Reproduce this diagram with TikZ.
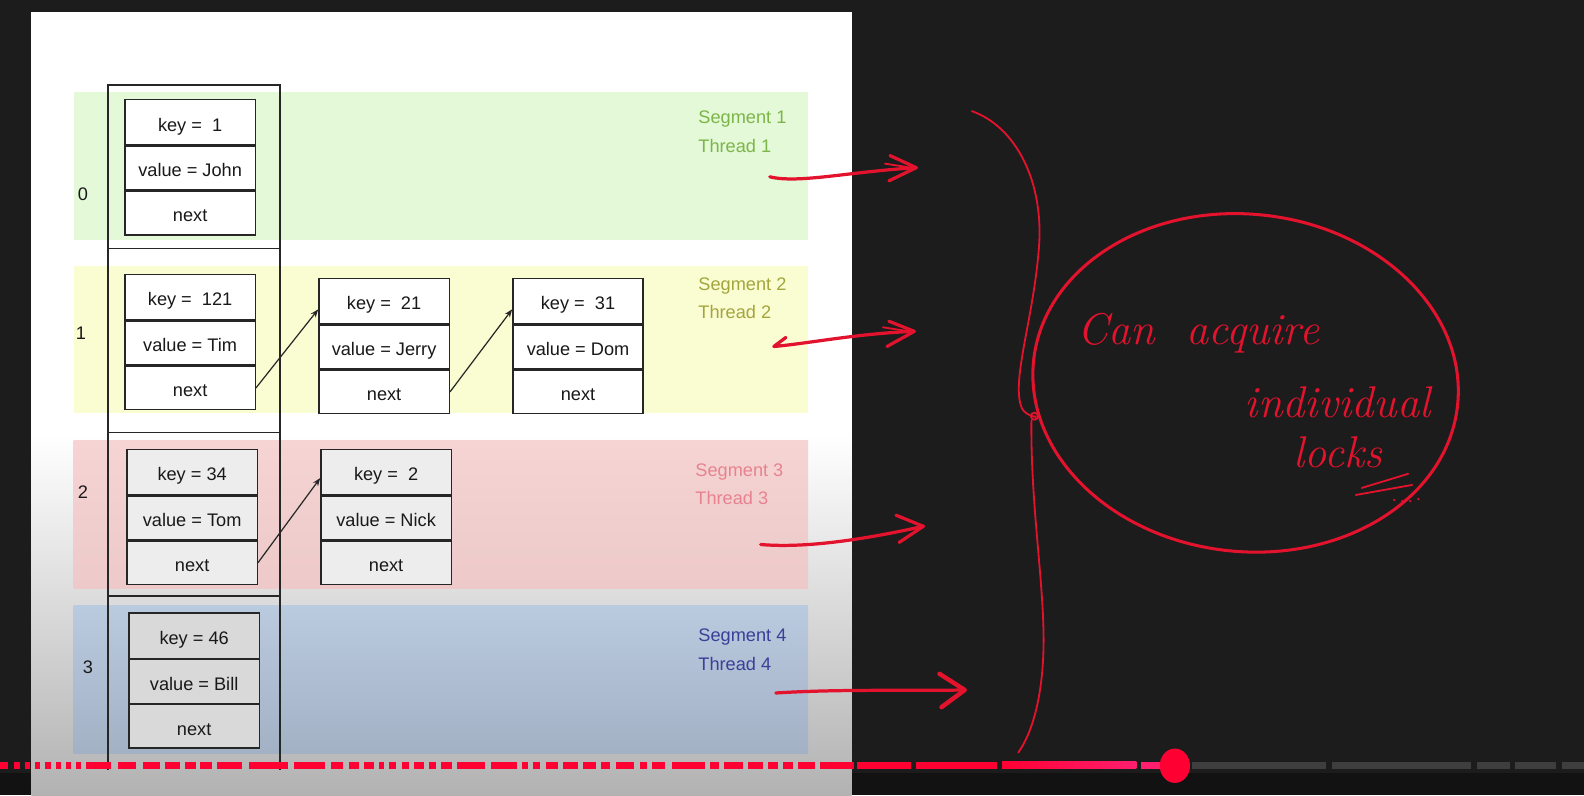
\documentclass[tikz,border=0pt]{standalone}
\usepackage{fontspec}
\newfontfamily\sansf{Liberation Sans}
\usetikzlibrary{arrows.meta,calc}
\definecolor{bgdark}{HTML}{1C1C1C}
\definecolor{bgbottom}{HTML}{121212}
\definecolor{panelgray}{HTML}{B2B2B2}
\definecolor{segA}{HTML}{E4F9D8}
\definecolor{segB}{HTML}{FAFCD2}
\definecolor{segCtop}{HTML}{F6D4D4}
\definecolor{segCbot}{HTML}{EDC9C9}
\definecolor{segDtop}{HTML}{BACADF}
\definecolor{segDbot}{HTML}{A3B1C5}
\definecolor{txtA}{HTML}{7CB548}
\definecolor{txtB}{HTML}{A2A63C}
\definecolor{txtC}{HTML}{E8828F}
\definecolor{txtD}{HTML}{3A3F98}
\definecolor{ink}{HTML}{E3122D}
\definecolor{ytred}{HTML}{FF0033}
\definecolor{ytpink}{HTML}{FF1F6E}
\definecolor{ytgray}{HTML}{3E3E3E}
\tikzset{
  cell/.style={draw=black!85, line width=0.7pt, minimum width=64.5pt, minimum height=21.5pt, inner sep=0pt, text height=8.6pt, text depth=0pt, font=\sansf\fontsize{9}{11}\selectfont, text=black!90},
  lbl/.style={font=\sansf\fontsize{9}{11}\selectfont, text=black!90, inner sep=0pt},
  seglbl/.style={font=\sansf\fontsize{9}{11}\selectfont, anchor=west, inner sep=0pt},
  link/.style={draw=black!85, line width=0.6pt, -{Stealth[length=4pt,width=3pt]}},
  hand/.style={draw=ink, line width=1.6pt, line cap=round, line join=round},
  thinhand/.style={draw=ink, line width=0.9pt, line cap=round, line join=round},
  handtxt/.style={text=ink, font=\itshape\fontsize{22}{24}\selectfont, inner sep=0pt},
}
\newcommand{\listbox}[6]{%
  \node[cell, fill=#6, anchor=north west, minimum height=22.5pt] (#1k) at (#2,#3) {#4};
  \node[cell, fill=#6, anchor=north] (#1v) at (#1k.south) {#5};
  \node[cell, fill=#6, anchor=north] (#1n) at (#1v.south) {next};
}
\begin{document}
\begin{tikzpicture}[x=0.5pt,y=-0.5pt]
\useasboundingbox (0,0) rectangle (1568,787);
% background
\fill[bgdark] (0,0) rectangle (1568,787);
\fill[bgbottom] (0,765) rectangle (1568,787);
% panel
\fill[white] (31,12) rectangle (843,431);
\shade[top color=white, bottom color=panelgray] (31,430) rectangle (843,787);
% segment bands
\fill[segA] (73,91) rectangle (800,238);
\fill[segB] (73,263) rectangle (800,409);
\shade[top color=segCtop, bottom color=segCbot] (73,436) rectangle (800,583);
\shade[top color=segDtop, bottom color=segDbot] (73,599) rectangle (800,746);
% bucket column
\draw[black!85, line width=0.7pt] (107,762) -- (107,84) -- (277,84) -- (277,762);
\draw[black!85, line width=0.7pt] (107,246) -- (277,246);
\draw[black!85, line width=0.7pt] (107,428) -- (277,428);
\draw[black!85, line width=0.7pt] (107,590) -- (277,590);
% index labels
\node[lbl] (i0) at (82,192) {0};
\node[lbl] (i1) at (80,330) {1};
\node[lbl] (i2) at (82,487) {2};
\node[lbl] (i3) at (87,660) {3};
% list nodes
\listbox{a0}{123}{98}{key =\ \ 1}{value = John}{white}
\listbox{a1}{123}{271}{key =\ \ 121}{value = Tim}{white}
\listbox{b1}{315}{275}{key =\ \ 21}{value = Jerry}{white}
\listbox{c1}{507}{275}{key =\ \ 31}{value = Dom}{white}
\listbox{a2}{125}{444}{key = 34}{value = Tom}{black!7}
\listbox{b2}{317}{444}{key =\ \ 2}{value = Nick}{black!7}
\listbox{a3}{127}{606}{key = 46}{value = Bill}{black!15}
% links
\draw[link] (a1n.east) -- ([yshift=-4pt]b1k.west);
\draw[link] (b1n.east) -- ([yshift=-4pt]c1k.west);
\draw[link] (a2n.east) -- ([yshift=-3pt]b2k.west);
% segment labels
\node[seglbl, text=txtA] (s1) at (691,118) {Segment 1};
\node[seglbl, text=txtA] (t1) at (691,145) {Thread 1};
\node[seglbl, text=txtB] (s2) at (691,283) {Segment 2};
\node[seglbl, text=txtB] (t2) at (691,309) {Thread 2};
\node[seglbl, text=txtC] (s3) at (688,467) {Segment 3};
\node[seglbl, text=txtC] (t3) at (688,493) {Thread 3};
\node[seglbl, text=txtD] (s4) at (691,631) {Segment 4};
\node[seglbl, text=txtD] (t4) at (691,657) {Thread 4};
% hand-drawn arrows
\coordinate (r1s) at (762,175); \coordinate (r1e) at (907,166);
\draw[hand] (r1s) .. controls (790,182) and (840,170) .. (r1e);
\draw[hand] (881,154) -- (r1e) -- (880,179);
\draw[thinhand] (876,162) -- (902,166);
\coordinate (r2s) at (766,343); \coordinate (r2e) at (905,328);
\draw[hand] (778,334) -- (r2s) .. controls (800,340) and (850,330) .. (r2e);
\draw[hand] (880,318) -- (r2e) -- (878,343);
\draw[thinhand] (874,324) -- (900,328);
\coordinate (r3s) at (753,539); \coordinate (r3e) at (914,521);
\draw[hand] (r3s) .. controls (800,543) and (860,533) .. (r3e);
\draw[hand] (887,510) -- (r3e) -- (890,537);
\coordinate (r4s) at (768,686); \coordinate (r4e) at (955,683);
\draw[hand] (r4s) .. controls (830,682) and (900,684) .. (r4e);
\draw[hand, line width=2.2pt] (930,667) -- (r4e) -- (932,700);
% brace-like curve
\coordinate (bt) at (962,110); \coordinate (bm) at (1024,412); \coordinate (bb) at (1008,745);
\draw[thinhand] (bt) .. controls (1005,125) and (1035,180) .. (1028,250)
  .. controls (1022,320) and (1000,380) .. (1012,405) .. controls (1016,412) and (1030,414) .. (bm);
\draw[thinhand] (bm) circle (3.5);
\draw[thinhand] (1021,416) .. controls (1020,500) and (1034,580) .. (1033,640)
  .. controls (1032,690) and (1022,725) .. (bb);
% ellipse
\coordinate (ec) at (1233,379);
\draw[hand, line width=1.5pt, rotate around={-6:(ec)}] (ec) ellipse [x radius=211, y radius=167];
% handwritten text
\node[handtxt, anchor=west] (h1) at (1066,330) {Can\ \ acquire};
\node[handtxt, anchor=west] (h2) at (1232,398) {individual};
\node[handtxt, anchor=west] (h3) at (1280,448) {locks};
\draw[thinhand] (1348,483) -- (1394,469);
\draw[thinhand] (1342,490) -- (1398,480);
\fill[ink] (1380,495) circle (1.2) (1388,496) circle (1.2) (1396,496) circle (1.2) (1404,494) circle (1.2);
% progress bar
\foreach \a/\b in {0/8,14/20,25/30,35/40,45/50,55/60,65/70,75/80,85/110,117/135,142/158,163/178,183/194,198/210,215/240,246/285,291/322,328/340,345/355,360/370,375/380,385/392,398/405,410/420,425/432,437/447,452/480,486/512,517/523,528/535,540/552,557/572,577/590,595/604,610/628,634/640,645/658,665/698,703/712,717/735,740/755,760/770,775/785,790/807,812/845,848/902,907/987}
  \fill[ytred] (\a,754) rectangle (\b,761);
\shade[left color=ytred, right color=ytpink] (992,754) rectangle (1125,761);
\fill[ytpink] (1129,754) rectangle (1150,761);
\foreach \a/\b in {1180/1313,1319/1456,1462/1495,1500/1540,1546/1568}
  \fill[ytgray] (\a,754) rectangle (\b,761);
\fill[ytred] (1163,758) ellipse [x radius=15, y radius=17];
\end{tikzpicture}
\end{document}
